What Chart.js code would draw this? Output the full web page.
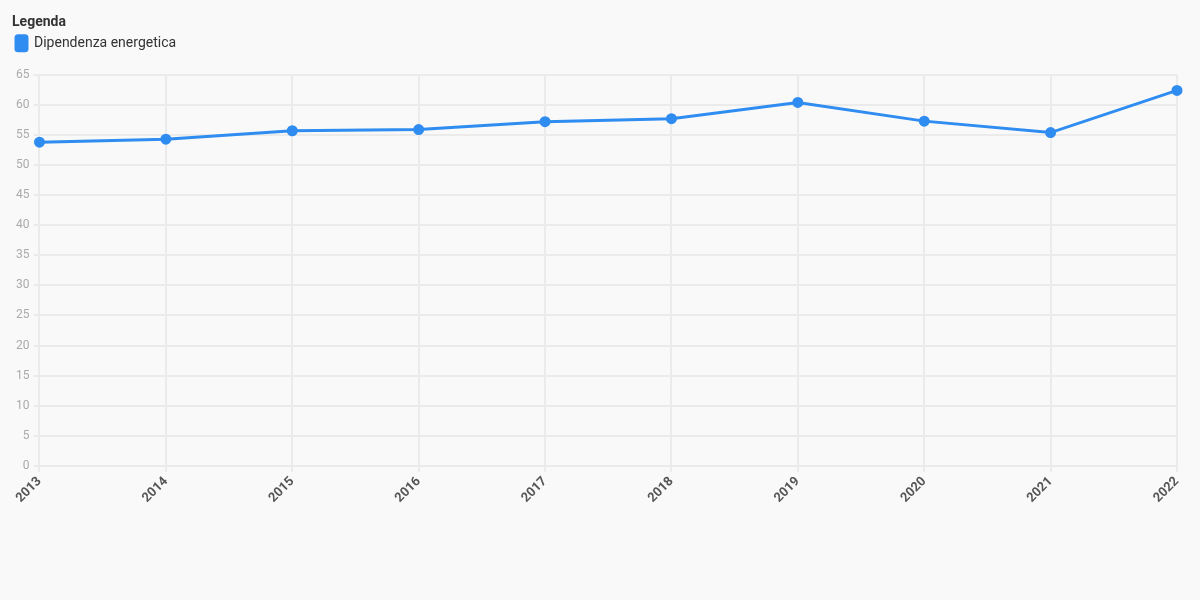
<!DOCTYPE html>
<html>
<head>
<meta charset="utf-8">
<script src="https://cdn.jsdelivr.net/npm/chart.js@4/dist/chart.umd.min.js"></script>
<style>
  html, body { margin: 0; padding: 0; background: #f9f9f9; }
  #wrap { width: 1200px; height: 600px; }
</style>
</head>
<body>
<div id="wrap"><canvas id="chart"></canvas></div>
<script>
const years = ['2013', '2014', '2015', '2016', '2017', '2018', '2019', '2020', '2021', '2022'];
const dipendenza = [53.8, 54.3, 55.7, 55.9, 57.2, 57.7, 60.4, 57.3, 55.4, 62.4];
const seriesLabel = 'Dipendenza energetica';

Chart.defaults.font.family = 'Roboto, "Noto Sans", sans-serif';

// extra gap under the legend
const legendGap = {
    id: 'legendGap',
    beforeInit (chart) {
        const fit = chart.legend.fit;
        chart.legend.fit = function () {
            fit.bind(chart.legend)();
            this.height += 14;
        };
    }
};

new Chart(document.getElementById('chart'), {
    type: 'line',
    data: {
        labels: years,
        datasets: [{
            label: seriesLabel,
            data: dipendenza,
            borderColor: '#2f8cf0',
            backgroundColor: '#2f8cf0',
            borderWidth: 3,
            pointRadius: 4,
            pointHoverRadius: 5,
            tension: 0
        }]
    },
    options: {
        responsive: true,
        maintainAspectRatio: false,
        animation: false,
        layout: { padding: { left: 12, right: 23, top: 9, bottom: 92 } },
        plugins: {
            legend: {
                position: 'top',
                align: 'start',
                title: {
                    display: true,
                    text: 'Legenda',
                    position: 'start',
                    color: '#333',
                    font: { size: 14, weight: 'bold' },
                    padding: { top: 6, bottom: 0 }
                },
                labels: {
                    color: '#333',
                    font: { size: 14 },
                    boxWidth: 11,
                    boxHeight: 15,
                    useBorderRadius: true,
                    borderRadius: 2,
                    padding: 4
                }
            },
            tooltip: { enabled: false }
        },
        scales: {
            x: {
                grid: { color: '#ebebeb', lineWidth: 2, tickLength: 6 },
                border: { color: '#ebebeb', width: 2 },
                ticks: {
                    color: '#555',
                    font: { size: 13, weight: 'bold' },
                    maxRotation: 45,
                    minRotation: 45,
                    padding: 2
                }
            },
            y: {
                min: 0,
                max: 65,
                grid: { color: '#ebebeb', lineWidth: 2, tickLength: 6 },
                border: { color: '#ebebeb', width: 2 },
                ticks: {
                    stepSize: 5,
                    color: '#aaa',
                    font: { size: 12 },
                    padding: 4
                }
            }
        }
    },
    plugins: [legendGap]
});
</script>
</body>
</html>
